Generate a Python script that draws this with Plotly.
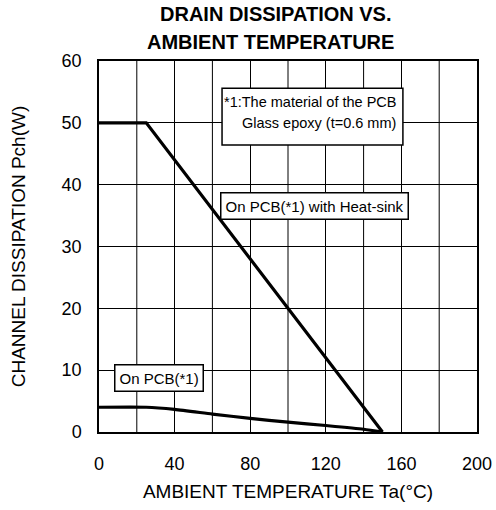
import plotly.graph_objects as go

# Data
hs_temp = [0, 25, 150]
hs_power = [50, 50, 0]
pcb_temp = [0, 25, 40, 60, 80, 100, 120, 140, 150]
pcb_power = [4.0, 4.0, 3.65, 2.9, 2.2, 1.6, 1.05, 0.45, 0.0]

x_ticks = [0, 40, 80, 120, 160, 200]
y_ticks = [0, 10, 20, 30, 40, 50, 60]
title_lines = ["DRAIN DISSIPATION VS.", "AMBIENT TEMPERATURE"]
note_lines = ["*1:The material of the PCB", "Glass epoxy (t=0.6 mm)"]

FONT = "Liberation Sans, Arial, sans-serif"

fig = go.Figure()
fig.add_trace(go.Scatter(x=hs_temp, y=hs_power, mode="lines",
                         line=dict(color="black", width=3.2), showlegend=False))
fig.add_trace(go.Scatter(x=pcb_temp, y=pcb_power, mode="lines",
                         line=dict(color="black", width=3.2, shape="spline", smoothing=0.6),
                         showlegend=False))

fig.update_layout(
    width=496, height=510,
    margin=dict(l=99, r=19, t=61, b=78),
    paper_bgcolor="white", plot_bgcolor="white",
    font=dict(family=FONT, color="black", size=16),
    xaxis=dict(range=[0, 200], tickvals=x_ticks, automargin=False,
               showgrid=True, gridcolor="black", gridwidth=1,
               showline=True, linecolor="black", linewidth=1.5, mirror=True,
               ticks="", zeroline=False, tickfont=dict(size=18), ticklabelstandoff=15,
               title=dict(text="AMBIENT TEMPERATURE Ta(°C)", font=dict(size=19), standoff=11)),
    yaxis=dict(range=[0, 60], tickvals=y_ticks, automargin=False,
               showgrid=True, gridcolor="black", gridwidth=1,
               showline=True, linecolor="black", linewidth=1.5, mirror=True,
               ticks="", zeroline=False, tickfont=dict(size=18), ticklabelstandoff=12,
               title=dict(text="CHANNEL DISSIPATION Pch(W)", font=dict(size=19), standoff=31)),
)

# title as two separately placed lines (pixel offsets above the plot top)
title_x = [0.468, 0.455]
for i, line in enumerate(title_lines):
    fig.add_annotation(x=title_x[i], y=1.0, xref="x domain", yref="paper",
                       yshift=47 - 28 * i, text="<b>" + line + "</b>", showarrow=False,
                       xanchor="center", yanchor="middle",
                       font=dict(size=20, family=FONT, color="black"))

# vertical grid every 20 but labels every 40
for xv in [20, 60, 100, 140, 180]:
    fig.add_shape(type="line", x0=xv, x1=xv, y0=0, y1=60, xref="x", yref="y",
                  line=dict(color="black", width=1), layer="below")

# PCB material note: framed box with two right-aligned lines
fig.add_shape(type="rect", x0=65.1, x1=160.8, y0=46.4, y1=55.6, xref="x", yref="y",
              line=dict(color="black", width=1.5), fillcolor="white", layer="above")
for i, line in enumerate(note_lines):
    fig.add_annotation(x=158.4, y=53.4 - 3.45 * i, xref="x", yref="y",
                       text=line, showarrow=False, xanchor="right", yanchor="middle",
                       font=dict(size=14.5))

fig.add_annotation(x=114, y=36.5, xref="x", yref="y",
                   text="On PCB(*1) with Heat-sink",
                   showarrow=False, font=dict(size=15),
                   bgcolor="white", bordercolor="black", borderwidth=1.5, borderpad=4)
fig.add_annotation(x=31.7, y=8.8, xref="x", yref="y",
                   text="On PCB(*1)",
                   showarrow=False, font=dict(size=15),
                   bgcolor="white", bordercolor="black", borderwidth=1.5, borderpad=4)

fig.write_html("out.html", config={"displayModeBar": False},
               post_script="document.body.style.margin='0';")
